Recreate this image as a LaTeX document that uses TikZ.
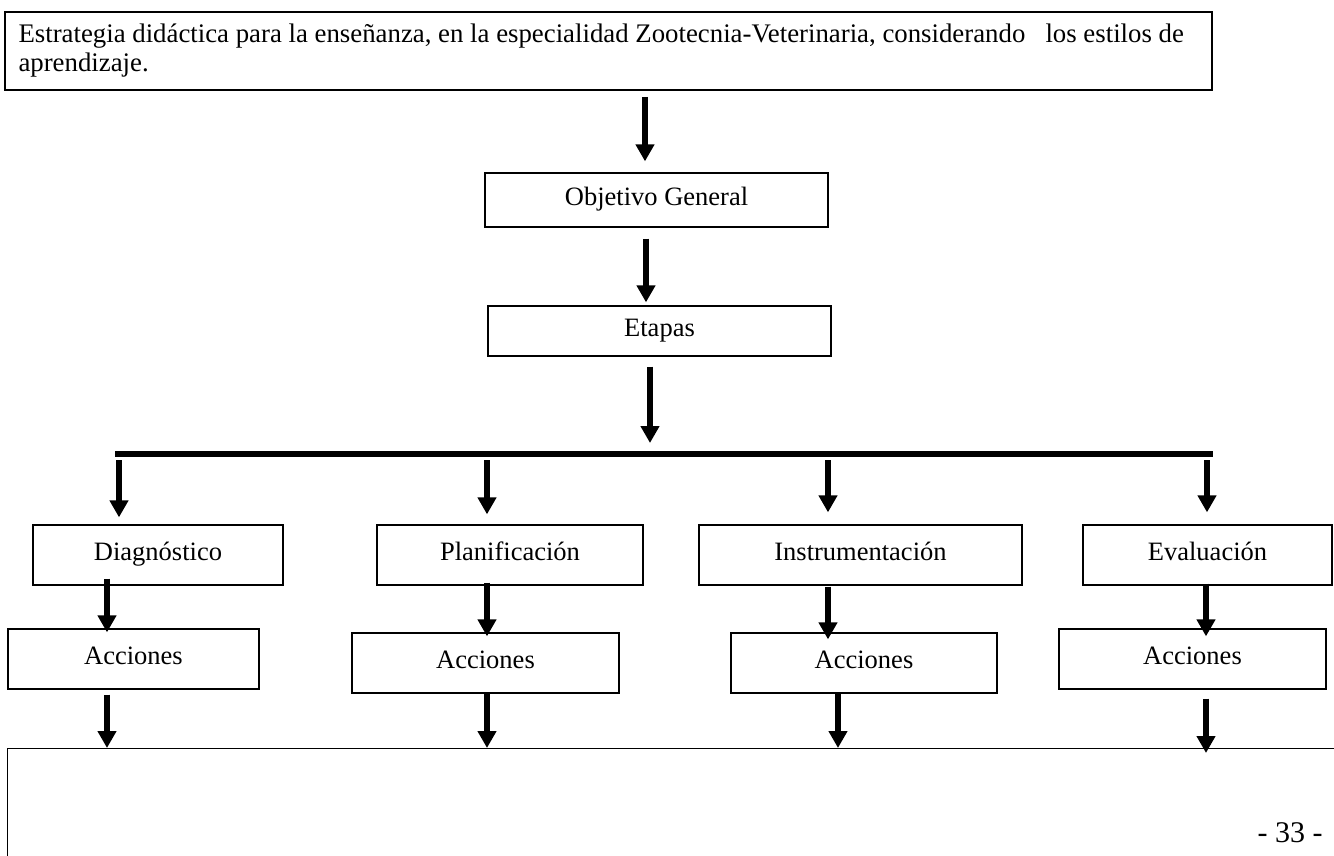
\documentclass[tikz,border=0pt]{standalone}
\usepackage{fontspec}
\setmainfont{Liberation Serif}
\usetikzlibrary{arrows.meta,positioning,calc}

\tikzset{
    caja/.style={draw,rectangle,line width=1.3pt,inner sep=0pt,font=\fontsize{26.5}{28}\selectfont},
    etiqueta/.style={caja,text height=17pt,text depth=6pt},
    flecha/.style={line width=6pt,-{Triangle[width=18pt,length=17pt]}},
    barra/.style={line width=5.5pt},
}

\begin{document}
\begin{tikzpicture}[x=1pt,y=1pt]
    \useasboundingbox (0,0) rectangle (1334,-855);
    \clip (0,0) rectangle (1334,-855);

    \node[caja,line width=1.6pt,font=\fontsize{26.8}{29}\selectfont,inner xsep=13.5pt,minimum width=1207pt,minimum height=78pt,text width=1180pt,align=flush left] (estrategia) at (608.5,-51)
        {Estrategia didáctica para la enseñanza, en la especialidad Zootecnia-Veterinaria, considerando\ \ \ los estilos de\\aprendizaje.};
    \node[etiqueta,minimum width=343pt,minimum height=54pt] (objetivo) at (656.5,-200) {Objetivo General};
    \node[etiqueta,minimum width=343pt,minimum height=50pt] (etapas) at (659.5,-331) {Etapas};

    \coordinate (barraI) at (115,-454);
    \coordinate (barraD) at (1213,-454);

    \node[etiqueta,minimum width=250pt,minimum height=60pt] (diag) at (158,-555) {Diagnóstico};
    \node[etiqueta,minimum width=266pt,minimum height=60pt] (plan) at (510,-555) {Planificación};
    \node[etiqueta,minimum width=323pt,minimum height=60pt] (inst) at (860.5,-555) {Instrumentación};
    \node[etiqueta,minimum width=249pt,minimum height=60pt] (eval) at (1207.5,-555) {Evaluación};

    \node[etiqueta,minimum width=251pt,minimum height=60pt] (acc1) at (133.5,-659) {Acciones};
    \node[etiqueta,minimum width=267pt,minimum height=60pt] (acc2) at (485.5,-663) {Acciones};
    \node[etiqueta,minimum width=266pt,minimum height=60pt] (acc3) at (864,-663) {Acciones};
    \node[etiqueta,minimum width=267pt,minimum height=60pt] (acc4) at (1192.5,-659) {Acciones};

    \node[caja,line width=1pt,minimum width=1360pt,minimum height=140pt,anchor=north west] (marco) at (7,-748) {};
    \node[font=\fontsize{30}{30}\selectfont,anchor=base] (pagina) at (1290,-842) {- 33 -};

    % tronco
    \draw[flecha] ([xshift=36.5pt,yshift=-6pt]estrategia.south) -- ([xshift=-11.5pt,yshift=11pt]objetivo.north);
    \draw[flecha] ([xshift=-10.5pt,yshift=-11pt]objetivo.south) -- ([xshift=-13.5pt,yshift=3pt]etapas.north);
    \draw[flecha] ([xshift=-9.5pt,yshift=-10pt]etapas.south) -- ($(etapas.south |- barraI)+(-9.5,11)$);
    \draw[barra] (barraI) -- (barraD);

    % etapas
    \foreach \nodo/\dx/\dy in {diag/-39/7,plan/-23/10,inst/-32.5/12,eval/-0.5/12}
        \draw[flecha] ($(\nodo.north |- barraI)+(\dx,-6)$) -- ([xshift=\dx pt,yshift=\dy pt]\nodo.north);

    % acciones
    \foreach \from/\to/\ax/\ay/\bx/\by in {diag/acc1/-51/7/-26.5/-4,plan/acc2/-23/3/1.5/-4,inst/acc3/-32.5/-1/-36/-7,eval/acc4/-1.5/2/13.5/-8}
        \draw[flecha] ([xshift=\ax pt,yshift=\ay pt]\from.south) -- ([xshift=\bx pt,yshift=\by pt]\to.north);

    \foreach \nodo/\dx/\dy/\dz in {acc1/-26.5/-5/0,acc2/1.5/0/0,acc3/-26/0/0,acc4/13.5/-9/-5}
        \draw[flecha] ([xshift=\dx pt,yshift=\dy pt]\nodo.south) -- ($(\nodo.south |- marco.north)+(\dx,\dz)$);
\end{tikzpicture}
\end{document}
